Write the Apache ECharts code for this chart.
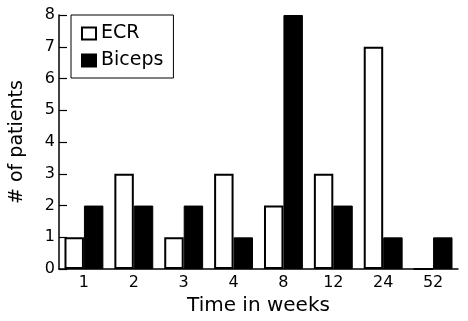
<!DOCTYPE html>
<html>
<head>
<meta charset="utf-8">
<script src="https://cdn.jsdelivr.net/npm/echarts@6/dist/echarts.min.js"></script>
<style>html,body{margin:0;padding:0;background:#fff}#c{width:468px;height:321px}</style>
</head>
<body>
<div id="c"></div>
<script>
var categories = ['1', '2', '3', '4', '8', '12', '24', '52'];
var ecr = [1, 3, 1, 3, 2, 3, 7, 0];
var biceps = [2, 2, 2, 1, 8, 2, 1, 1];
var yTicks = [0, 1, 2, 3, 4, 5, 6, 7, 8];

var FONT = 'DejaVu Sans';
var chart = echarts.init(document.getElementById('c'), null, {renderer: 'canvas'});
chart.setOption({
  animation: false,
  backgroundColor: '#fff',
  textStyle: {fontFamily: FONT, color: '#000'},
  grid: {left: 57, right: 10, top: 15, bottom: 49},
  legend: {
    orient: 'vertical',
    left: 71, top: 15,
    padding: [9, 10, 8, 10],
    borderColor: '#000', borderWidth: 1,
    itemWidth: 14, itemHeight: 12, itemGap: 8,
    icon: 'rect',
    textStyle: {fontFamily: FONT, fontSize: 19, color: '#000'},
    data: ['ECR', 'Biceps']
  },
  xAxis: {
    type: 'category',
    data: categories,
    boundaryGap: true,
    name: 'Time in weeks',
    nameLocation: 'middle',
    nameGap: 19,
    nameTextStyle: {fontFamily: FONT, fontSize: 20, color: '#000', verticalAlign: 'top'},
    axisLine: {lineStyle: {color: '#000', width: 1.5}},
    axisTick: {inside: true, length: 14, lineStyle: {color: '#000', width: 1.2}},
    axisLabel: {fontFamily: FONT, fontSize: 16, color: '#000', margin: 6}
  },
  yAxis: {
    type: 'value',
    min: yTicks[0], max: yTicks[yTicks.length - 1], interval: 1,
    name: '# of patients',
    nameLocation: 'middle',
    nameGap: 32,
    nameTextStyle: {fontFamily: FONT, fontSize: 19, color: '#000'},
    splitLine: {show: false},
    axisLine: {show: true, lineStyle: {color: '#000', width: 1.5}},
    axisTick: {show: true, inside: true, length: 8, lineStyle: {color: '#000', width: 1.2}},
    axisLabel: {fontFamily: FONT, fontSize: 16, color: '#000', margin: 4}
  },
  series: [
    {
      name: 'ECR', type: 'bar', data: ecr,
      barGap: '0%', barCategoryGap: '22%',
      itemStyle: {color: '#fff', borderColor: '#000', borderWidth: 2}
    },
    {
      name: 'Biceps', type: 'bar', data: biceps,
      barGap: '0%', barCategoryGap: '22%',
      itemStyle: {color: '#000', borderColor: '#000', borderWidth: 1}
    }
  ]
});
</script>
</body>
</html>
